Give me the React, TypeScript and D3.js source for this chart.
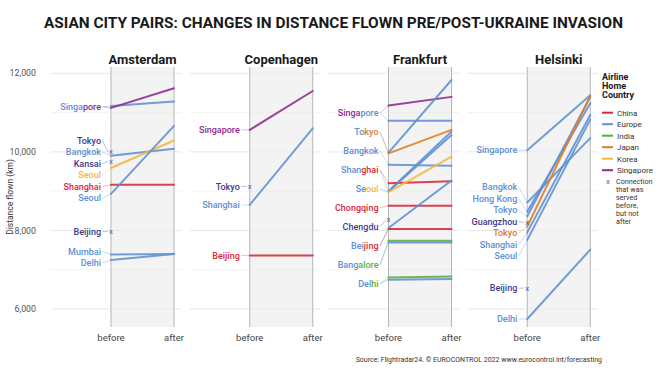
import React from "react";
import * as d3 from "d3";

// one route = one airline flying city pair; after = null means the connection stopped
interface Route {
  dest: string;
  airline: string | null;
  before: number;
  after: number | null;
  tag?: number;
}

const CITIES = ["Amsterdam", "Copenhagen", "Frankfurt", "Helsinki"];
const AIRLINES = ["China", "Europe", "India", "Japan", "Korea", "Singapore"];
const AIRLINE_COLORS = ["#d62839", "#5e8fd4", "#5aae3c", "#e07b1f", "#f4b63f", "#8e2a8e"];
const STOPPED_COLOR = "#3c3c8c";
const Y_TICKS = [6000, 8000, 10000, 12000];
const GRID = [6000, 7000, 8000, 9000, 10000, 11000, 12000];

const amsterdam: Route[] = [
  { dest: "Singapore", airline: "Europe", before: 11170, after: 11280 },
  { dest: "Singapore", airline: "Singapore", before: 11120, after: 11620 },
  { dest: "Tokyo", airline: null, before: 10000, after: null },
  { dest: "Bangkok", airline: "Europe", before: 9900, after: 10080 },
  { dest: "Kansai", airline: null, before: 9760, after: null },
  { dest: "Seoul", airline: "Korea", before: 9590, after: 10290, tag: 1 },
  { dest: "Shanghai", airline: "China", before: 9160, after: 9160 },
  { dest: "Seoul", airline: "Europe", before: 8930, after: 10660, tag: 2 },
  { dest: "Beijing", airline: null, before: 7970, after: null },
  { dest: "Mumbai", airline: "Europe", before: 7390, after: 7400 },
  { dest: "Delhi", airline: "Europe", before: 7250, after: 7400 },
];

const copenhagen: Route[] = [
  { dest: "Singapore", airline: "Singapore", before: 10560, after: 11550 },
  { dest: "Tokyo", airline: null, before: 9120, after: null },
  { dest: "Shanghai", airline: "Europe", before: 8650, after: 10600 },
  { dest: "Beijing", airline: "China", before: 7360, after: 7360 },
];

const frankfurt: Route[] = [
  { dest: "Singapore", airline: "Singapore", before: 11180, after: 11400 },
  { dest: "Singapore", airline: "Europe", before: 10790, after: 10790 },
  { dest: "Tokyo", airline: "Europe", before: 9980, after: 11830 },
  { dest: "Tokyo", airline: "Japan", before: 9960, after: 10560 },
  { dest: "Bangkok", airline: "Europe", before: 9670, after: 9645 },
  { dest: "Shanghai", airline: "Europe", before: 9000, after: 10520 },
  { dest: "Shanghai", airline: "China", before: 9200, after: 9250 },
  { dest: "Seoul", airline: "Europe", before: 8990, after: 10430 },
  { dest: "Seoul", airline: "Korea", before: 8975, after: 9880 },
  { dest: "Chongqing", airline: "China", before: 8630, after: 8630 },
  { dest: "Chengdu", airline: null, before: 8270, after: null },
  { dest: "Beijing", airline: "Europe", before: 8060, after: 9270 },
  { dest: "Beijing", airline: "China", before: 8035, after: 8035 },
  { dest: "Bangalore", airline: "Europe", before: 7695, after: 7695 },
  { dest: "Bangalore", airline: "India", before: 7740, after: 7740 },
  { dest: "Delhi", airline: "Europe", before: 6745, after: 6765 },
  { dest: "Delhi", airline: "India", before: 6805, after: 6830 },
];

const helsinki: Route[] = [
  { dest: "Singapore", airline: "Europe", before: 10040, after: 11440 },
  { dest: "Bangkok", airline: "Europe", before: 8710, after: 10350 },
  { dest: "Hong Kong", airline: "Europe", before: 8480, after: 11240 },
  { dest: "Tokyo", airline: "Europe", before: 8360, after: 11400, tag: 1 },
  { dest: "Guangzhou", airline: null, before: 8200, after: null },
  { dest: "Tokyo", airline: "Japan", before: 8100, after: 11420, tag: 2 },
  { dest: "Shanghai", airline: "Europe", before: 7950, after: 10940 },
  { dest: "Seoul", airline: "Europe", before: 7760, after: 10820 },
  { dest: "Beijing", airline: null, before: 6530, after: null },
  { dest: "Delhi", airline: "Europe", before: 5745, after: 7510 },
];

const ROUTES: Record<string, Route[]> = {
  Amsterdam: amsterdam,
  Copenhagen: copenhagen,
  Frankfurt: frankfurt,
  Helsinki: helsinki,
};

// where a shared label switches colour
const LABEL_SPLITS: Record<string, number> = {
  "Amsterdam|Singapore": 5,
  "Frankfurt|Singapore": 5,
  "Frankfurt|Tokyo": 2,
  "Frankfurt|Shanghai": 4,
  "Frankfurt|Seoul": 2,
  "Frankfurt|Beijing": 3,
  "Frankfurt|Bangalore": 4,
  "Frankfurt|Delhi": 3,
};

const LEGEND_NOTE = ["Connection", "that was", "served", "before,", "but not", "after"];

const colorOf = (a: string | null) =>
  a === null ? STOPPED_COLOR : AIRLINE_COLORS[AIRLINES.indexOf(a)];

// crude 1-d label repel
function repel(targets: number[], gap: number, lo: number, hi: number) {
  const order = targets.map((_, i) => i).sort((a, b) => targets[a] - targets[b]);
  const pos = targets.slice();
  for (let it = 0; it < 400; it++) {
    for (let k = 1; k < order.length; k++) {
      const a = order[k - 1];
      const b = order[k];
      const d = pos[b] - pos[a];
      if (d < gap) {
        const m = (gap - d) / 2;
        pos[a] -= m;
        pos[b] += m;
      }
    }
    for (let i = 0; i < pos.length; i++) pos[i] = Math.max(lo, Math.min(hi, pos[i]));
  }
  return pos;
}

const FONT = "Roboto, 'Noto Sans', Arial, sans-serif";

export default function App() {
  const width = 669;
  const height = 373;
  const fx = d3.scaleBand<string>().domain(CITIES).range([46, 601]);
  const px = d3.scalePoint<string>().domain(["before", "after"]).range([65, 128]);
  const y = d3.scaleLinear().domain([6000, 12000]).range([309, 73.3]);
  const panelTop = 67;
  const panelBottom = 327;

  return (
    <svg
      width={width}
      height={height}
      style={{ position: "absolute", left: 0, top: 0, background: "#fff" }}
      fontFamily={FONT}
    >
      <text
        x={333.5}
        y={27.5}
        textAnchor="middle"
        fontSize={15.5}
        fontWeight="bold"
        fill="#1a1a1a"
        textLength={579}
        lengthAdjust="spacingAndGlyphs"
      >
        ASIAN CITY PAIRS: CHANGES IN DISTANCE FLOWN PRE/POST-UKRAINE INVASION
      </text>

      {/* y axis */}
      {Y_TICKS.map((t) => (
        <text key={t} x={36} y={y(t)} dy="0.35em" textAnchor="end" fontSize={8.8} fill="#555">
          {d3.format(",")(t)}
        </text>
      ))}
      <text
        transform={`translate(10.5,${(panelTop + panelBottom) / 2}) rotate(-90)`}
        textAnchor="middle"
        dy="0.35em"
        fontSize={8.5}
        fill="#333"
      >
        Distance flown (km)
      </text>

      {CITIES.map((city) => {
        const x0 = fx(city)!;
        const xb = x0 + px("before")!;
        const xa = x0 + px("after")!;
        const routes = ROUTES[city];

        // group routes into labels
        const groups: { key: string; text: string; routes: Route[] }[] = [];
        routes.forEach((r) => {
          const key = `${r.dest}|${r.tag ?? 0}`;
          let g = groups.find((d) => d.key === key);
          if (!g) {
            g = { key, text: r.dest, routes: [] };
            groups.push(g);
          }
          g.routes.push(r);
        });
        const targets = groups.map((g) => d3.mean(g.routes, (r) => y(r.before))!);
        const ly = repel(targets, city === "Frankfurt" ? 19 : 11.5, panelTop + 8, panelBottom - 4);
        const lx = xb - 10;

        return (
          <g key={city}>
            {GRID.map((t) => (
              <line
                key={t}
                x1={x0 + 5}
                x2={x0 + fx.bandwidth() - 3}
                y1={y(t)}
                y2={y(t)}
                stroke={t % 2000 === 0 ? "#e4e4e4" : "#ececec"}
                strokeWidth={t % 2000 === 0 ? 0.9 : 0.6}
              />
            ))}
            <rect x={xb} y={panelTop} width={xa - xb} height={panelBottom - panelTop} fill="#f3f3f3" />
            <line x1={xb} x2={xb} y1={panelTop} y2={panelBottom} stroke="#b5b5b5" strokeWidth={1} />
            <line x1={xa} x2={xa} y1={panelTop} y2={panelBottom} stroke="#b5b5b5" strokeWidth={1} />
            {GRID.map((t) => (
              <line key={"in" + t} x1={xb} x2={xa} y1={y(t)} y2={y(t)} stroke="#e9e9e9" strokeWidth={0.6} />
            ))}

            <text x={(xb + xa) / 2} y={64} textAnchor="middle" fontSize={13} fontWeight="bold" fill="#1a1a1a">
              {city}
            </text>
            <text x={xb} y={341} textAnchor="middle" fontSize={9.5} fill="#444">
              before
            </text>
            <text x={xa} y={341} textAnchor="middle" fontSize={9.5} fill="#444">
              after
            </text>

            {routes
              .filter((r) => r.after !== null)
              .map((r, i) => (
                <line
                  key={"r" + i}
                  x1={xb}
                  x2={xa}
                  y1={y(r.before)}
                  y2={y(r.after as number)}
                  stroke={colorOf(r.airline)}
                  strokeWidth={2}
                  strokeOpacity={0.88}
                  strokeLinecap="round"
                />
              ))}
            {routes
              .filter((r) => r.after === null)
              .map((r, i) => (
                <text
                  key={"x" + i}
                  x={xb}
                  y={y(r.before)}
                  dy="0.32em"
                  textAnchor="middle"
                  fontSize={8}
                  fill="#5a5aa5"
                >
                  x
                </text>
              ))}

            {groups.map((g, i) => {
              const cut = LABEL_SPLITS[`${city}|${g.text}`];
              const cols = g.routes.map((r) => colorOf(r.airline));
              const parts =
                cut && cols.length > 1
                  ? [
                      { t: g.text.slice(0, cut), c: cols[0] },
                      { t: g.text.slice(cut), c: cols[1] },
                    ]
                  : [{ t: g.text, c: cols[0] }];
              return (
                <g key={g.key}>
                  {g.routes.map((r, j) => (
                    <line
                      key={j}
                      x1={lx + 1.5}
                      y1={ly[i]}
                      x2={xb - (r.after === null ? 3 : 0)}
                      y2={y(r.before)}
                      stroke={colorOf(r.airline)}
                      strokeWidth={0.6}
                      strokeOpacity={0.55}
                    />
                  ))}
                  <text x={lx} y={ly[i]} dy="0.35em" textAnchor="end" fontSize={9} fontWeight={500}>
                    {parts.map((p, k) => (
                      <tspan key={k} fill={p.c}>
                        {p.t}
                      </tspan>
                    ))}
                  </text>
                </g>
              );
            })}
          </g>
        );
      })}

      {/* legend */}
      <g fontSize={8} fill="#333">
        {["Airline", "Home", "Country"].map((t, i) => (
          <text key={t} x={602} y={79.5 + i * 9.4} fontSize={9} fontWeight="bold" fill="#1a1a1a">
            {t}
          </text>
        ))}
        {AIRLINES.map((a, i) => (
          <g key={a} transform={`translate(602,${112.7 + i * 11.5})`}>
            <line x1={0} x2={11} y1={0} y2={0} stroke={AIRLINE_COLORS[i]} strokeWidth={2} />
            <text x={15} y={0} dy="0.35em">
              {a}
            </text>
          </g>
        ))}
        <text x={608} y={181.7} dy="0.32em" textAnchor="middle" fontSize={8} fill="#5a5aa5">
          x
        </text>
        {LEGEND_NOTE.map((t, i) => (
          <text key={t} x={616} y={181.7 + i * 7.9} dy="0.35em" fontSize={7.2}>
            {t}
          </text>
        ))}
      </g>

      <text x={602} y={362} textAnchor="end" fontSize={7} fill="#333">
        Source: Flightradar24. © EUROCONTROL 2022 www.eurocontrol.int/forecasting
      </text>
    </svg>
  );
}
